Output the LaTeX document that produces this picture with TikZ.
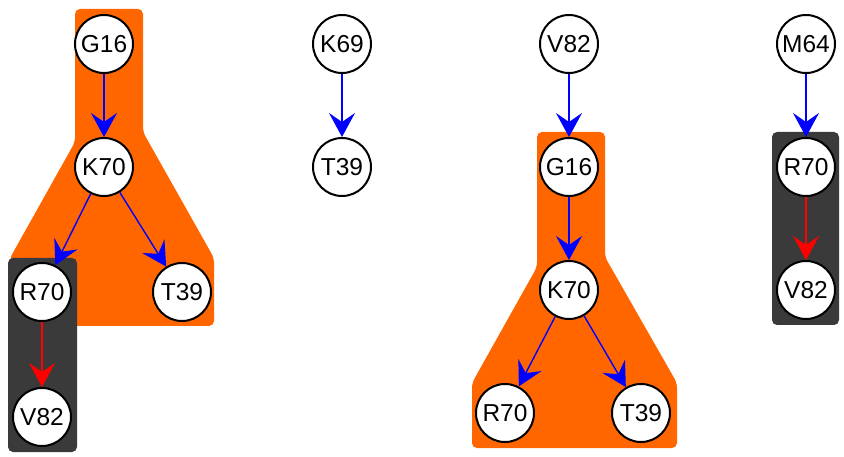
\documentclass[tikz,border=0pt]{standalone}
\usepackage{fontspec}
\setmainfont{Liberation Sans}
\usetikzlibrary{arrows.meta, positioning}
\usepackage{xcolor}
\definecolor{grouporange}{HTML}{FF6600}
\definecolor{groupdark}{HTML}{3A3A3A}

\begin{document}
\begin{tikzpicture}[
        x=1pt, y=-1pt,
        on grid,
        node distance=123pt and 64pt,
        res/.style={circle, draw, line width=2pt, fill=white, minimum size=58pt, inner sep=0pt, font=\fontsize{24.5}{28}\selectfont},
        hilite/.style={fill=grouporange, rounded corners=5pt},
        shade/.style={fill=groupdark, rounded corners=5pt},
        bluelink/.style={blue, line width=1.4pt, -{Stealth[length=24pt, width=26pt, inset=9pt]}},
        redlink/.style={red, line width=1.4pt, -{Stealth[length=24pt, width=26pt, inset=9pt]}}
    ]
        \useasboundingbox (0,0) rectangle (844,457);

        % group backgrounds
        \fill [hilite] (75,9) -- (143,9) -- (143,132) -- (214,258) -- (214,326) -- (10,326) -- (10,258) -- (75,142) -- cycle;
        \fill [shade] (8,258) rectangle (77,452);
        \fill [hilite] (537,132) -- (605,132) -- (605,257) -- (677,383) -- (677,448) -- (472,448) -- (472,383) -- (537,267) -- cycle;
        \fill [shade] (772,132) rectangle (839,325);

        % first tree
        \node [res] (g16a) at (104,44) {G16};
        \node [res, below=of g16a] (k70a) {K70};
        \node [res, below left=125pt and 62pt of k70a] (r70a) {R70};
        \node [res, below right=125pt and 78pt of k70a] (t39a) {T39};
        \node [res, below=125pt of r70a] (v82a) {V82};

        % second tree
        \node [res] (k69b) at (342,44) {K69};
        \node [res, below=of k69b] (t39b) {T39};

        % third tree
        \node [res] (v82c) at (569,44) {V82};
        \node [res, below=of v82c] (g16c) {G16};
        \node [res, below=of g16c] (k70c) {K70};
        \node [res, below left=123pt and 64pt of k70c] (r70c) {R70};
        \node [res, below right=123pt and 72pt of k70c] (t39c) {T39};

        % fourth tree
        \node [res] (m64d) at (806,44) {M64};
        \node [res, below=of m64d] (r70d) {R70};
        \node [res, below=of r70d] (v82d) {V82};

        \draw [bluelink] (g16a) -- (k70a);
        \draw [bluelink] (k70a) -- (r70a);
        \draw [bluelink] (k70a) -- (t39a);
        \draw [redlink] (r70a) -- (v82a);
        \draw [bluelink] (k69b) -- (t39b);
        \draw [bluelink] (v82c) -- (g16c);
        \draw [bluelink] (g16c) -- (k70c);
        \draw [bluelink] (k70c) -- (r70c);
        \draw [bluelink] (k70c) -- (t39c);
        \draw [bluelink] (m64d) -- (r70d);
        \draw [redlink] (r70d) -- (v82d);
    \end{tikzpicture}
\end{document}
